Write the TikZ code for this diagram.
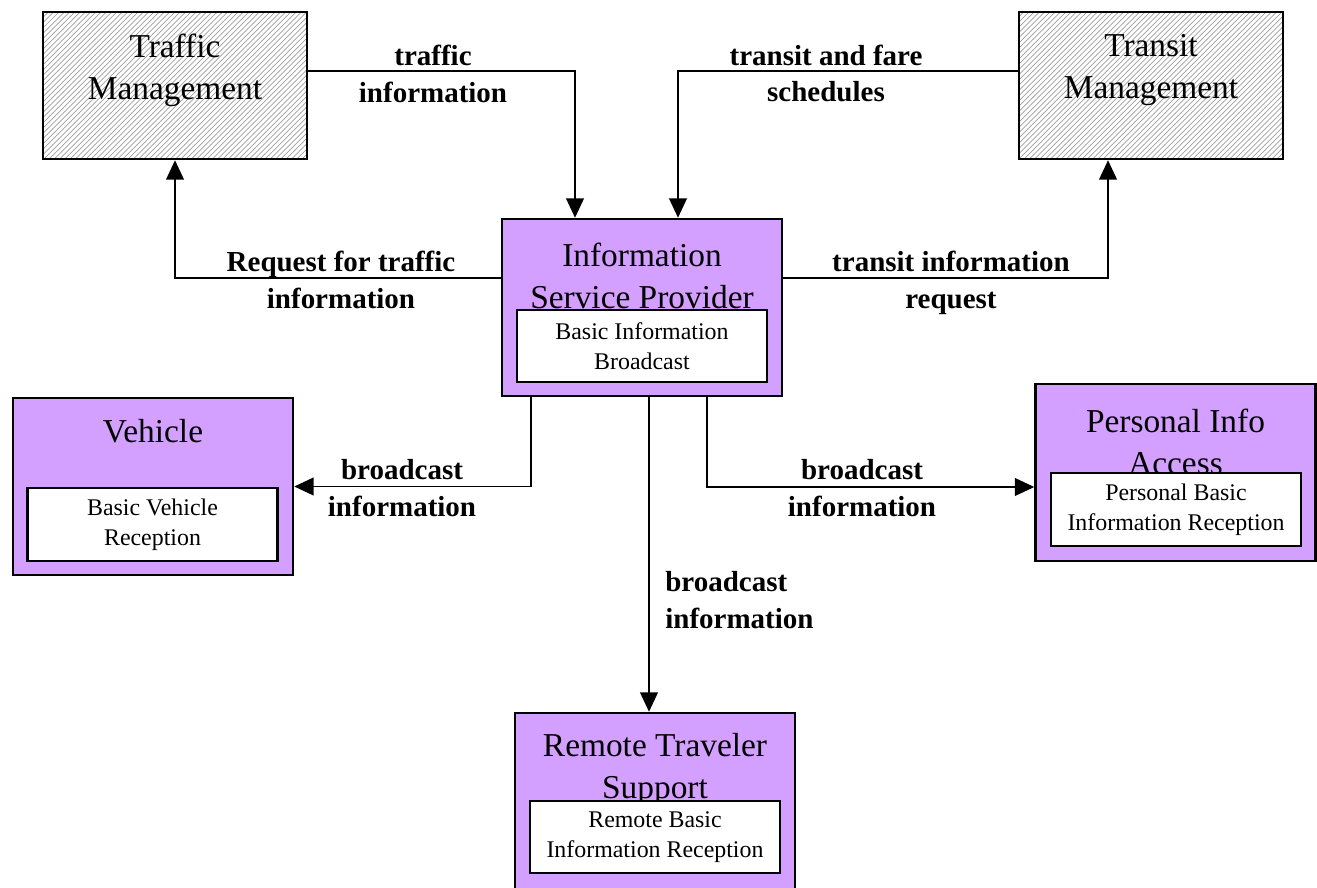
\documentclass[tikz,border=0pt]{standalone}
\usepackage{fontspec}
\setmainfont{Liberation Serif}
\usepackage{xcolor}
\usepackage{tikz}
\usetikzlibrary{arrows.meta, positioning, calc, patterns}

\definecolor{ispurple}{RGB}{212,160,255}

\begin{document}
\begin{tikzpicture}[
    x=0.02cm, y=-0.02cm,
    % Styles
    subsystem/.style={rectangle, draw=black, line width=1.4pt, fill=ispurple, minimum width=5.6cm, minimum height=3.54cm, inner sep=0pt},
    terminator/.style={rectangle, draw=black, line width=1.4pt, pattern=north east lines, pattern color=gray!75, minimum width=5.28cm, minimum height=2.94cm, inner sep=0pt},
    equippkg/.style={rectangle, draw=black, line width=1.3pt, fill=white, minimum width=5.0cm, minimum height=1.45cm, align=center, inner sep=0pt, font=\fontsize{13.6}{17}\selectfont},
    boxtitle/.style={anchor=north, inner sep=0pt, align=center, font=\fontsize{19}{23.8}\selectfont},
    flowlabel/.style={inner sep=0pt, align=center, font=\bfseries\fontsize{16.5}{21}\selectfont},
    arrow/.style={-{Triangle[length=11pt, width=10pt]}, line width=1.1pt, draw=black}
]
\clip (0,0) rectangle (1317,888);

% ------------------- TERMINATORS -------------------
\node[terminator] (traffic) at (175,85.5) {};
\node[boxtitle] (trafficT) at ([yshift=-0.46cm]traffic.north) {Traffic\\Management};

\node[terminator] (transit) at (1151,85.5) {};
\node[boxtitle] (transitT) at ([yshift=-0.46cm]transit.north) {Transit\\Management};

% ------------------- INFORMATION SERVICE PROVIDER -------------------
\node[subsystem] (isp) at (642,307.5) {};
\node[boxtitle] (ispT) at ([yshift=-0.5cm]isp.north) {Information\\Service Provider};
\node[equippkg] (ispE) at (642,346) {Basic Information\\Broadcast};

% ------------------- RECEIVERS -------------------
\node[subsystem] (veh) at (153,486.5) {};
\node[boxtitle] (vehT) at ([yshift=-0.44cm]veh.north) {Vehicle};
\node[equippkg] (vehE) at (152.5,524.5) {Basic Vehicle\\Reception};

\node[subsystem] (pia) at (1175.5,472.5) {};
\node[boxtitle] (piaT) at ([yshift=-0.52cm]pia.north) {Personal Info\\Access};
\node[equippkg] (piaE) at (1176,509.5) {Personal Basic\\Information Reception};

\node[subsystem] (rts) at (655,801.5) {};
\node[boxtitle] (rtsT) at ([yshift=-0.42cm]rts.north) {Remote Traveler\\Support};
\node[equippkg] (rtsE) at (655,837) {Remote Basic\\Information Reception};

% ------------------- FLOWS -------------------
\draw[arrow] ([yshift=0.29cm]traffic.east) -| ([xshift=-1.34cm]isp.north);
\node[flowlabel] (f1) at (433,73.5) {traffic\\information};

\draw[arrow] ([yshift=0.29cm]transit.west) -| ([xshift=0.72cm]isp.north);
\node[flowlabel] (f2) at (826,73.5) {transit and fare\\schedules};

\draw[arrow] ([yshift=0.59cm]isp.west) -| (traffic.south);
\node[flowlabel] (f3) at (341,280) {Request for traffic\\information};

\draw[arrow] ([yshift=0.59cm]isp.east) -| ([xshift=-0.86cm]transit.south);
\node[flowlabel] (f4) at (951,282.5) {transit information\\request};

\draw[arrow] ([xshift=-2.22cm]isp.south) |- (veh.east);
\node[flowlabel] (f5) at (402,488.5) {broadcast\\information};

\draw[arrow] ([xshift=1.3cm]isp.south) |- ([yshift=-0.29cm]pia.west);
\node[flowlabel] (f6) at (862,488.5) {broadcast\\information};

\draw[arrow] ([xshift=0.14cm]isp.south) -- ([xshift=0.14cm]isp.south |- rts.north);
\node[flowlabel, anchor=west, align=left] (f7) at (665,600) {broadcast\\information};

\end{tikzpicture}
\end{document}
